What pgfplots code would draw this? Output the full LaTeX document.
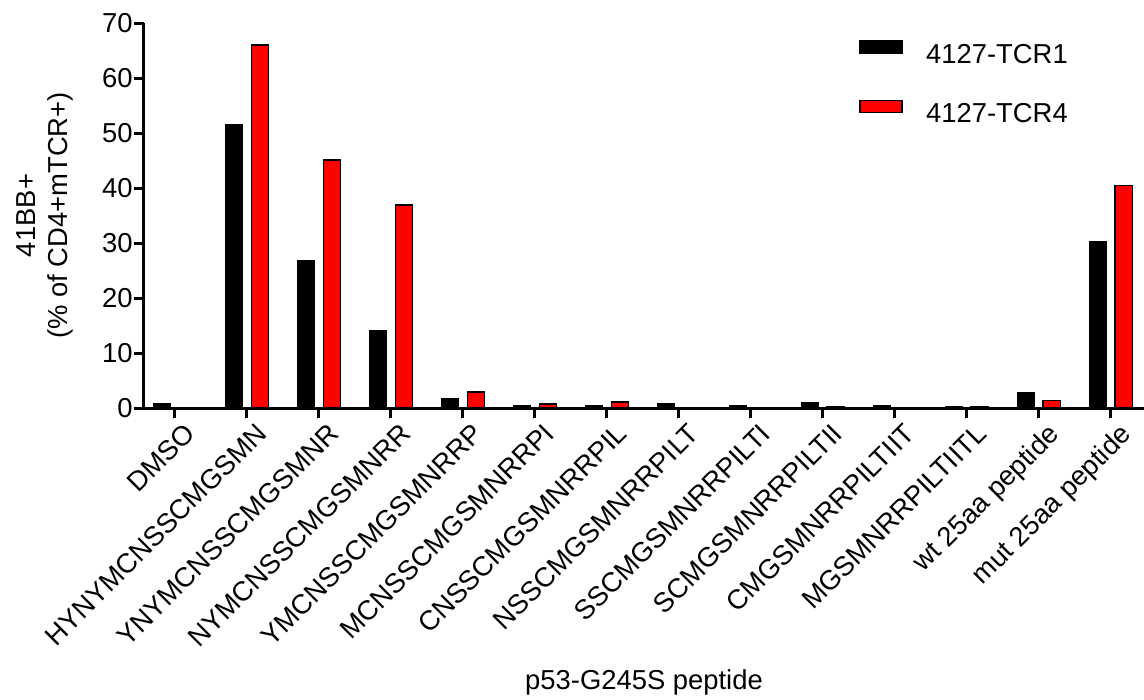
\documentclass[border=0pt]{standalone}
\usepackage{fontspec}
\setmainfont{Liberation Sans}
\usepackage{pgfplots}
\usepackage{pgfplotstable}
\pgfplotsset{compat=1.18}

% 41BB+ (% of CD4+ mTCR+) per peptide, two TCRs
\pgfplotstableread{
idx tcr1 tcr4
0   0.7  0
1   51.5 66.0
2   26.8 45.1
3   14.0 36.9
4   1.7  2.9
5   0.5  0.7
6   0.4  1.1
7   0.7  0
8   0.5  0
9   1.0  0.3
10  0.5  0
11  0.3  0.3
12  2.7  1.4
13  30.3 40.5
}\peptides

\newcommand\lblfont{\fontsize{13.7}{16.4}\selectfont}

\pgfplotsset{
  swatch/.style={legend image code/.code={
    \path[draw=none, fill=none] (0pt,0pt) rectangle (31pt,1pt);
    \draw[##1, line width=0.75pt] (0pt,1pt) rectangle (21pt,7pt);}},
}

\begin{document}
\begin{tikzpicture}
\path[use as bounding box] (-72pt,-146pt) rectangle (500pt,204pt);
\begin{axis}[
  at={(0,0)}, anchor=south west,
  scale only axis,
  width=500pt, height=192.5pt,
  xmin=-0.43, xmax=13.46,
  ymin=0, ymax=70,
  ytick={0,10,...,70},
  xtick={0,...,13},
  xticklabels={DMSO,HYNYMCNSSCMGSMN,YNYMCNSSCMGSMNR,NYMCNSSCMGSMNRR,
    YMCNSSCMGSMNRRP,MCNSSCMGSMNRRPI,CNSSCMGSMNRRPIL,NSSCMGSMNRRPILT,
    SSCMGSMNRRPILTI,SCMGSMNRRPILTII,CMGSMNRRPILTIIT,MGSMNRRPILTIITL,
    wt 25aa peptide,mut 25aa peptide},
  axis x line*=bottom, axis y line*=left,
  axis line style={-, line width=1.5pt},
  tick align=outside,
  major tick length=5pt,
  major tick style={line width=1.5pt, black},
  /pgf/number format/assume math mode=true,
  tick label style={font=\lblfont},
  xticklabel style={rotate=45, anchor=north east, inner sep=0pt,
    xshift=1.5pt, yshift=-4pt},
  yticklabel style={inner sep=0pt, xshift=-0.5pt},
  xlabel={p53-G245S peptide},
  xlabel style={font=\lblfont, at={(axis description cs:0.5,-0.732)}, anchor=base},
  ylabel={41BB+\\(\% of CD4+mTCR+)},
  ylabel style={font=\lblfont, align=center, at={(axis description cs:-0.099,0.5)}, anchor=center},
  legend style={draw=none, fill=none, font=\lblfont,
    at={(axis description cs:0.709,0.967)}, anchor=north west,
    row sep=14.5pt},
  legend cell align=left,
  axis on top,
]
\addplot[ybar, bar width=0.24, bar shift=-0.18, fill=black, draw=black,
  line width=0.75pt, swatch] table[x=idx, y=tcr1] {\peptides};
\addlegendentry{4127-TCR1}
\addplot[ybar, bar width=0.24, bar shift=0.18, fill=red, draw=black,
  line width=0.75pt, swatch] table[x=idx, y=tcr4] {\peptides};
\addlegendentry{4127-TCR4}
\end{axis}
\end{tikzpicture}
\end{document}
